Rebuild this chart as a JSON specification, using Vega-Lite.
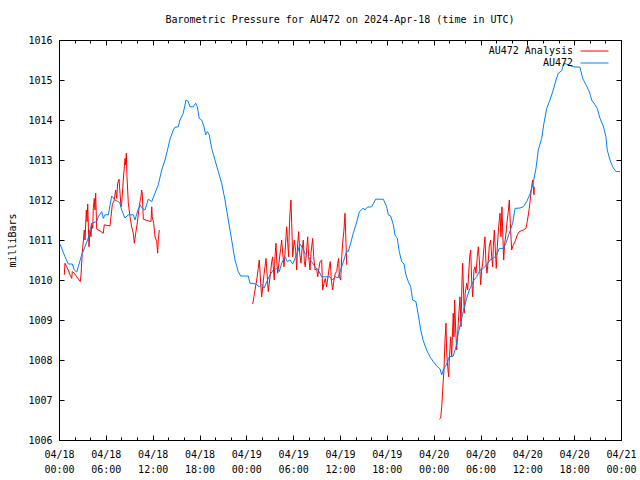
{
  "$schema": "https://vega.github.io/schema/vega-lite/v6.json",
  "width": 562,
  "height": 400,
  "autosize": {"type": "none"},
  "padding": {"left": 59, "top": 40, "right": 19, "bottom": 40},
  "background": "white",
  "config": {
    "font": "DejaVu Sans Mono",
    "view": {"stroke": "black"},
    "axis": {"grid": false, "labelFontSize": 10, "labelColor": "black", "tickColor": "black", "domainColor": "black", "titleColor": "black", "titleFontWeight": "normal", "titleFontSize": 10, "labelFont": "DejaVu Sans Mono", "titleFont": "DejaVu Sans Mono"}
  },
  "title": {"text": "Barometric Pressure for AU472 on 2024-Apr-18 (time in UTC)", "font": "DejaVu Sans Mono", "fontSize": 10, "fontWeight": "normal", "anchor": "middle", "frame": "group", "offset": 10, "color": "black"},
  "datasets": {
    "au": [
      {"h":0.13,"p":1010.9},{"h":0.77,"p":1010.58},{"h":1.19,"p":1010.4},{"h":1.7,"p":1010.4},{"h":1.96,"p":1010.25},{"h":2.27,"p":1010.2},{"h":2.91,"p":1010.63},{"h":3.33,"p":1010.83},{"h":3.75,"p":1011.05},{"h":4.19,"p":1011.42},{"h":4.83,"p":1011.46},{"h":5.03,"p":1011.58},{"h":5.47,"p":1011.71},{"h":5.67,"p":1011.54},{"h":5.89,"p":1011.63},{"h":6.32,"p":1011.63},{"h":6.75,"p":1012.1},{"h":7.17,"p":1012.0},{"h":7.6,"p":1011.96},{"h":7.81,"p":1011.92},{"h":8.03,"p":1011.75},{"h":8.45,"p":1011.55},{"h":8.88,"p":1011.63},{"h":9.52,"p":1011.63},{"h":9.74,"p":1011.5},{"h":10.08,"p":1011.73},{"h":10.38,"p":1011.88},{"h":10.67,"p":1011.79},{"h":11.02,"p":1011.75},{"h":11.44,"p":1012.02},{"h":11.88,"p":1011.96},{"h":12.3,"p":1012.17},{"h":12.72,"p":1012.38},{"h":13.16,"p":1012.75},{"h":13.58,"p":1013.0},{"h":14.0,"p":1013.33},{"h":14.22,"p":1013.52},{"h":14.64,"p":1013.75},{"h":14.86,"p":1013.82},{"h":15.28,"p":1013.83},{"h":15.5,"p":1014.0},{"h":15.92,"p":1014.17},{"h":16.27,"p":1014.5},{"h":16.56,"p":1014.46},{"h":16.78,"p":1014.33},{"h":17.2,"p":1014.33},{"h":17.51,"p":1014.42},{"h":17.72,"p":1014.33},{"h":17.97,"p":1014.04},{"h":18.28,"p":1014.0},{"h":18.58,"p":1013.83},{"h":18.79,"p":1013.63},{"h":19.0,"p":1013.71},{"h":19.25,"p":1013.63},{"h":19.56,"p":1013.29},{"h":19.98,"p":1013.0},{"h":20.41,"p":1012.71},{"h":20.84,"p":1012.42},{"h":21.27,"p":1012.0},{"h":21.69,"p":1011.5},{"h":22.12,"p":1011.0},{"h":22.55,"p":1010.5},{"h":22.97,"p":1010.21},{"h":23.28,"p":1010.1},{"h":24.25,"p":1010.1},{"h":24.47,"p":1009.92},{"h":25.24,"p":1009.9},{"h":25.66,"p":1009.83},{"h":25.97,"p":1009.9},{"h":26.26,"p":1009.8},{"h":26.61,"p":1009.95},{"h":27.03,"p":1010.13},{"h":27.45,"p":1010.25},{"h":27.97,"p":1010.29},{"h":28.22,"p":1010.21},{"h":28.53,"p":1010.42},{"h":28.95,"p":1010.58},{"h":29.25,"p":1010.46},{"h":29.59,"p":1010.5},{"h":29.94,"p":1010.4},{"h":30.23,"p":1010.54},{"h":30.53,"p":1010.67},{"h":30.87,"p":1010.9},{"h":31.22,"p":1010.79},{"h":31.51,"p":1010.67},{"h":31.94,"p":1010.58},{"h":32.37,"p":1010.46},{"h":32.8,"p":1010.33},{"h":33.22,"p":1010.25},{"h":33.65,"p":1010.08},{"h":34.72,"p":1010.08},{"h":35.06,"p":1010.0},{"h":35.36,"p":1010.08},{"h":35.78,"p":1010.06},{"h":36.0,"p":1010.21},{"h":36.42,"p":1010.45},{"h":36.86,"p":1010.73},{"h":37.06,"p":1010.71},{"h":37.37,"p":1010.92},{"h":37.7,"p":1011.17},{"h":38.14,"p":1011.45},{"h":38.47,"p":1011.7},{"h":38.98,"p":1011.8},{"h":39.2,"p":1011.75},{"h":39.5,"p":1011.82},{"h":40.06,"p":1011.83},{"h":40.57,"p":1012.02},{"h":41.55,"p":1012.02},{"h":41.98,"p":1011.83},{"h":42.19,"p":1011.63},{"h":42.49,"p":1011.6},{"h":42.83,"p":1011.38},{"h":43.04,"p":1011.13},{"h":43.34,"p":1011.04},{"h":43.59,"p":1010.71},{"h":43.9,"p":1010.46},{"h":44.2,"p":1010.4},{"h":44.45,"p":1010.13},{"h":44.75,"p":1009.96},{"h":45.06,"p":1009.83},{"h":45.31,"p":1009.5},{"h":45.73,"p":1009.46},{"h":46.03,"p":1009.13},{"h":46.34,"p":1008.75},{"h":46.67,"p":1008.48},{"h":47.11,"p":1008.24},{"h":47.53,"p":1008.08},{"h":47.95,"p":1007.96},{"h":48.39,"p":1007.85},{"h":48.81,"p":1007.78},{"h":49.03,"p":1007.63},{"h":49.23,"p":1007.75},{"h":49.67,"p":1007.9},{"h":50.0,"p":1008.08},{"h":50.51,"p":1008.1},{"h":50.86,"p":1008.33},{"h":51.15,"p":1008.67},{"h":51.46,"p":1008.92},{"h":51.79,"p":1009.21},{"h":52.23,"p":1009.54},{"h":52.56,"p":1009.75},{"h":52.87,"p":1009.88},{"h":53.16,"p":1010.0},{"h":53.51,"p":1010.08},{"h":53.93,"p":1010.25},{"h":54.36,"p":1010.29},{"h":54.79,"p":1010.38},{"h":55.21,"p":1010.5},{"h":55.64,"p":1010.54},{"h":56.07,"p":1010.63},{"h":56.41,"p":1010.79},{"h":56.92,"p":1010.79},{"h":57.26,"p":1010.92},{"h":57.69,"p":1011.17},{"h":58.12,"p":1011.42},{"h":58.42,"p":1011.79},{"h":59.06,"p":1011.8},{"h":59.48,"p":1011.83},{"h":59.92,"p":1011.96},{"h":60.34,"p":1012.15},{"h":60.76,"p":1012.44},{"h":61.11,"p":1012.79},{"h":61.4,"p":1013.25},{"h":61.84,"p":1013.54},{"h":62.13,"p":1013.92},{"h":62.48,"p":1014.29},{"h":62.9,"p":1014.5},{"h":63.32,"p":1014.75},{"h":63.67,"p":1015.0},{"h":63.96,"p":1015.17},{"h":64.4,"p":1015.23},{"h":64.69,"p":1015.42},{"h":65.24,"p":1015.38},{"h":65.89,"p":1015.33},{"h":66.74,"p":1015.32},{"h":67.09,"p":1015.04},{"h":67.51,"p":1014.88},{"h":67.94,"p":1014.71},{"h":68.24,"p":1014.5},{"h":68.67,"p":1014.38},{"h":68.96,"p":1014.29},{"h":69.31,"p":1014.04},{"h":69.73,"p":1013.85},{"h":70.07,"p":1013.58},{"h":70.24,"p":1013.25},{"h":70.59,"p":1013.0},{"h":70.93,"p":1012.83},{"h":71.36,"p":1012.71},{"h":71.87,"p":1012.71}
    ],
    "an": [
      {"s":1,"h":0.68,"p":1010.13},{"s":1,"h":0.77,"p":1010.42},{"s":1,"h":0.99,"p":1010.33},{"s":1,"h":1.19,"p":1010.25},{"s":1,"h":1.41,"p":1010.13},{"s":1,"h":1.63,"p":1010.04},{"s":1,"h":1.7,"p":1010.21},{"s":1,"h":1.96,"p":1010.17},{"s":1,"h":2.27,"p":1010.08},{"s":1,"h":2.56,"p":1010.0},{"s":1,"h":2.73,"p":1009.96},{"s":1,"h":2.82,"p":1010.13},{"s":1,"h":2.98,"p":1010.67},{"s":1,"h":3.24,"p":1011.25},{"s":1,"h":3.33,"p":1011.0},{"s":1,"h":3.5,"p":1011.75},{"s":1,"h":3.59,"p":1011.46},{"s":1,"h":3.68,"p":1011.9},{"s":1,"h":3.84,"p":1010.83},{"s":1,"h":3.97,"p":1011.25},{"s":1,"h":4.1,"p":1011.08},{"s":1,"h":4.19,"p":1011.42},{"s":1,"h":4.32,"p":1011.29},{"s":1,"h":4.39,"p":1011.79},{"s":1,"h":4.52,"p":1012.04},{"s":1,"h":4.61,"p":1011.75},{"s":1,"h":4.7,"p":1012.17},{"s":1,"h":4.83,"p":1011.27},{"s":1,"h":5.25,"p":1011.23},{"s":1,"h":5.67,"p":1011.17},{"s":1,"h":5.8,"p":1011.38},{"s":1,"h":6.53,"p":1011.35},{"s":1,"h":6.66,"p":1011.58},{"s":1,"h":6.83,"p":1011.88},{"s":1,"h":7.08,"p":1012.0},{"s":1,"h":7.26,"p":1012.25},{"s":1,"h":7.39,"p":1012.04},{"s":1,"h":7.52,"p":1012.42},{"s":1,"h":7.69,"p":1012.52},{"s":1,"h":7.81,"p":1012.2},{"s":1,"h":7.94,"p":1011.83},{"s":1,"h":8.03,"p":1011.92},{"s":1,"h":8.24,"p":1012.5},{"s":1,"h":8.37,"p":1012.83},{"s":1,"h":8.46,"p":1013.04},{"s":1,"h":8.54,"p":1012.88},{"s":1,"h":8.62,"p":1013.17},{"s":1,"h":8.71,"p":1012.58},{"s":1,"h":8.88,"p":1011.92},{"s":1,"h":9.1,"p":1011.58},{"s":1,"h":9.31,"p":1011.33},{"s":1,"h":9.52,"p":1011.17},{"s":1,"h":9.65,"p":1010.92},{"s":1,"h":9.83,"p":1011.17},{"s":1,"h":10.08,"p":1011.5},{"s":1,"h":10.25,"p":1011.79},{"s":1,"h":10.38,"p":1011.96},{"s":1,"h":10.5,"p":1012.08},{"s":1,"h":10.59,"p":1012.25},{"s":1,"h":10.67,"p":1012.15},{"s":1,"h":10.8,"p":1011.52},{"s":1,"h":11.44,"p":1011.48},{"s":1,"h":11.79,"p":1011.46},{"s":1,"h":11.88,"p":1011.83},{"s":1,"h":11.95,"p":1011.58},{"s":1,"h":12.13,"p":1011.42},{"s":1,"h":12.3,"p":1011.08},{"s":1,"h":12.52,"p":1010.96},{"s":1,"h":12.64,"p":1010.67},{"s":1,"h":12.72,"p":1011.0},{"s":1,"h":12.85,"p":1011.25},
      {"s":2,"h":24.81,"p":1009.4},{"s":2,"h":24.98,"p":1009.58},{"s":2,"h":25.11,"p":1009.75},{"s":2,"h":25.33,"p":1010.0},{"s":2,"h":25.53,"p":1010.29},{"s":2,"h":25.66,"p":1010.5},{"s":2,"h":25.84,"p":1009.92},{"s":2,"h":25.97,"p":1009.58},{"s":2,"h":26.1,"p":1009.83},{"s":2,"h":26.26,"p":1010.13},{"s":2,"h":26.39,"p":1010.33},{"s":2,"h":26.52,"p":1010.54},{"s":2,"h":26.68,"p":1010.08},{"s":2,"h":26.81,"p":1009.71},{"s":2,"h":26.94,"p":1009.92},{"s":2,"h":27.12,"p":1010.21},{"s":2,"h":27.25,"p":1010.46},{"s":2,"h":27.38,"p":1010.58},{"s":2,"h":27.45,"p":1010.33},{"s":2,"h":27.58,"p":1010.0},{"s":2,"h":27.67,"p":1010.58},{"s":2,"h":27.8,"p":1010.92},{"s":2,"h":27.89,"p":1010.5},{"s":2,"h":28.02,"p":1010.17},{"s":2,"h":28.22,"p":1010.5},{"s":2,"h":28.4,"p":1010.79},{"s":2,"h":28.53,"p":1011.0},{"s":2,"h":28.66,"p":1010.67},{"s":2,"h":28.82,"p":1010.33},{"s":2,"h":28.95,"p":1010.67},{"s":2,"h":29.08,"p":1011.08},{"s":2,"h":29.17,"p":1011.33},{"s":2,"h":29.3,"p":1010.92},{"s":2,"h":29.43,"p":1010.58},{"s":2,"h":29.5,"p":1011.25},{"s":2,"h":29.59,"p":1011.67},{"s":2,"h":29.72,"p":1012.0},{"s":2,"h":29.81,"p":1011.42},{"s":2,"h":29.94,"p":1010.58},{"s":2,"h":30.02,"p":1010.75},{"s":2,"h":30.14,"p":1011.0},{"s":2,"h":30.32,"p":1010.75},{"s":2,"h":30.45,"p":1010.25},{"s":2,"h":30.58,"p":1010.92},{"s":2,"h":30.71,"p":1011.21},{"s":2,"h":30.84,"p":1010.67},{"s":2,"h":31.0,"p":1010.42},{"s":2,"h":31.13,"p":1010.75},{"s":2,"h":31.3,"p":1011.0},{"s":2,"h":31.43,"p":1010.46},{"s":2,"h":31.55,"p":1010.33},{"s":2,"h":31.73,"p":1010.75},{"s":2,"h":31.86,"p":1011.08},{"s":2,"h":31.99,"p":1010.58},{"s":2,"h":32.16,"p":1010.25},{"s":2,"h":32.28,"p":1010.67},{"s":2,"h":32.5,"p":1011.04},{"s":2,"h":32.63,"p":1010.58},{"s":2,"h":32.8,"p":1010.25},{"s":2,"h":33.01,"p":1010.29},{"s":2,"h":33.14,"p":1010.08},{"s":2,"h":33.27,"p":1010.25},{"s":2,"h":33.44,"p":1010.46},{"s":2,"h":33.65,"p":1010.5},{"s":2,"h":33.78,"p":1009.75},{"s":2,"h":33.95,"p":1009.92},{"s":2,"h":34.12,"p":1010.04},{"s":2,"h":34.29,"p":1009.83},{"s":2,"h":34.46,"p":1010.08},{"s":2,"h":34.63,"p":1010.33},{"s":2,"h":34.76,"p":1010.46},{"s":2,"h":34.89,"p":1010.0},{"s":2,"h":35.06,"p":1009.75},{"s":2,"h":35.23,"p":1010.0},{"s":2,"h":35.4,"p":1010.17},{"s":2,"h":35.58,"p":1010.21},{"s":2,"h":35.7,"p":1010.42},{"s":2,"h":35.83,"p":1010.54},{"s":2,"h":35.91,"p":1010.08},{"s":2,"h":36.09,"p":1010.0},{"s":2,"h":36.22,"p":1010.58},{"s":2,"h":36.34,"p":1010.92},{"s":2,"h":36.51,"p":1011.25},{"s":2,"h":36.64,"p":1011.67},{"s":2,"h":36.77,"p":1010.92},{"s":2,"h":36.86,"p":1010.38},
      {"s":3,"h":48.72,"p":1006.52},{"s":3,"h":48.9,"p":1006.55},{"s":3,"h":49.03,"p":1006.83},{"s":3,"h":49.16,"p":1007.25},{"s":3,"h":49.23,"p":1007.5},{"s":3,"h":49.32,"p":1007.75},{"s":3,"h":49.45,"p":1008.5},{"s":3,"h":49.58,"p":1008.92},{"s":3,"h":49.67,"p":1008.17},{"s":3,"h":49.8,"p":1007.83},{"s":3,"h":49.92,"p":1007.58},{"s":3,"h":50.0,"p":1008.0},{"s":3,"h":50.18,"p":1008.58},{"s":3,"h":50.31,"p":1008.08},{"s":3,"h":50.44,"p":1008.83},{"s":3,"h":50.51,"p":1009.17},{"s":3,"h":50.6,"p":1008.58},{"s":3,"h":50.69,"p":1009.5},{"s":3,"h":50.82,"p":1008.75},{"s":3,"h":50.95,"p":1008.25},{"s":3,"h":51.08,"p":1008.67},{"s":3,"h":51.2,"p":1009.08},{"s":3,"h":51.37,"p":1009.58},{"s":3,"h":51.5,"p":1008.83},{"s":3,"h":51.63,"p":1010.0},{"s":3,"h":51.72,"p":1010.42},{"s":3,"h":51.79,"p":1009.92},{"s":3,"h":51.92,"p":1009.17},{"s":3,"h":52.05,"p":1009.67},{"s":3,"h":52.23,"p":1009.92},{"s":3,"h":52.36,"p":1009.75},{"s":3,"h":52.49,"p":1010.17},{"s":3,"h":52.61,"p":1010.58},{"s":3,"h":52.74,"p":1010.75},{"s":3,"h":52.87,"p":1010.0},{"s":3,"h":53.0,"p":1009.58},{"s":3,"h":53.16,"p":1010.25},{"s":3,"h":53.29,"p":1010.33},{"s":3,"h":53.42,"p":1010.17},{"s":3,"h":53.59,"p":1010.58},{"s":3,"h":53.72,"p":1010.83},{"s":3,"h":53.85,"p":1010.5},{"s":3,"h":54.02,"p":1009.88},{"s":3,"h":54.15,"p":1010.25},{"s":3,"h":54.28,"p":1010.42},{"s":3,"h":54.45,"p":1010.83},{"s":3,"h":54.57,"p":1011.08},{"s":3,"h":54.7,"p":1010.42},{"s":3,"h":54.83,"p":1010.17},{"s":3,"h":55.0,"p":1010.5},{"s":3,"h":55.12,"p":1010.83},{"s":3,"h":55.3,"p":1011.0},{"s":3,"h":55.43,"p":1010.58},{"s":3,"h":55.56,"p":1010.33},{"s":3,"h":55.64,"p":1010.83},{"s":3,"h":55.77,"p":1011.25},{"s":3,"h":55.9,"p":1010.75},{"s":3,"h":56.02,"p":1010.29},{"s":3,"h":56.15,"p":1010.83},{"s":3,"h":56.33,"p":1011.33},{"s":3,"h":56.5,"p":1011.67},{"s":3,"h":56.62,"p":1011.08},{"s":3,"h":56.75,"p":1011.83},{"s":3,"h":56.84,"p":1011.25},{"s":3,"h":56.97,"p":1010.5},{"s":3,"h":57.1,"p":1010.92},{"s":3,"h":57.22,"p":1011.08},{"s":3,"h":57.43,"p":1011.5},{"s":3,"h":57.56,"p":1011.71},{"s":3,"h":57.69,"p":1012.0},{"s":3,"h":57.82,"p":1011.42},{"s":3,"h":57.99,"p":1010.75},{"s":3,"h":58.2,"p":1010.88},{"s":3,"h":58.42,"p":1010.96},{"s":3,"h":58.72,"p":1011.13},{"s":3,"h":58.97,"p":1011.21},{"s":3,"h":59.48,"p":1011.25},{"s":3,"h":59.82,"p":1011.29},{"s":3,"h":59.99,"p":1011.46},{"s":3,"h":60.25,"p":1011.79},{"s":3,"h":60.55,"p":1012.33},{"s":3,"h":60.68,"p":1012.5},{"s":3,"h":60.85,"p":1012.13},{"s":3,"h":60.89,"p":1012.33}
    ]
  },
  "resolve": {"axis": {"x": "independent", "y": "independent"}},
  "layer": [
    {
      "data": {"name": "an"},
      "mark": {"type": "line", "strokeWidth": 1},
      "encoding": {
        "x": {"field": "h", "type": "quantitative", "scale": {"domain": [0, 72], "nice": false, "zero": false},
          "axis": {"orient": "bottom", "title": null, "values": [0,2,4,6,8,10,12,14,16,18,20,22,24,26,28,30,32,34,36,38,40,42,44,46,48,50,52,54,56,58,60,62,64,66,68,70,72], "tickSize": -3, "labelPadding": 12, "labelFlush": false, "labelOverlap": false, "labelBound": false, "labelLineHeight": 15,
            "labelExpr": "datum.value % 6 == 0 ? ['04/' + (18 + floor(datum.value / 24)), (datum.value % 24 < 10 ? '0' : '') + (datum.value % 24) + ':00'] : ''"}},
        "y": {"field": "p", "type": "quantitative", "scale": {"domain": [1006, 1016], "nice": false, "zero": false},
          "axis": {"orient": "left", "title": "milliBars", "format": "d", "values": [1006,1007,1008,1009,1010,1011,1012,1013,1014,1015,1016], "tickSize": -5, "labelPadding": 12, "labelFlush": false, "labelOverlap": false, "titlePadding": 10}},
        "detail": {"field": "s"},
        "color": {"datum": "AU472 Analysis", "type": "nominal",
          "scale": {"domain": ["AU472 Analysis", "AU472"], "range": ["#ff0000", "#0080ff"]},
          "legend": {"orient": "none", "legendX": 530.5, "legendY": 6, "title": null, "symbolType": "M-4,0H4", "symbolSize": 49, "symbolStrokeWidth": 1, "labelAlign": "right", "labelOffset": -26.5, "labelFontSize": 10, "labelFont": "DejaVu Sans Mono", "labelColor": "black", "padding": 0, "rowPadding": 2, "labelLimit": 0,
            "encode": {"symbols": {"update": {"stroke": [{"test": "datum.value === 'AU472 Analysis'", "value": "#ff0000"}, {"value": "#0080ff"}], "fill": {"value": "transparent"}, "opacity": {"value": 1}}}}}}
      }
    },
    {
      "data": {"name": "au"},
      "mark": {"type": "line", "strokeWidth": 1},
      "encoding": {
        "x": {"field": "h", "type": "quantitative", "scale": {"domain": [0, 72], "nice": false, "zero": false},
          "axis": {"orient": "bottom", "title": null, "values": [0,6,12,18,24,30,36,42,48,54,60,66,72], "tickSize": -5, "labels": false, "domain": false}},
        "y": {"field": "p", "type": "quantitative", "scale": {"domain": [1006, 1016], "nice": false, "zero": false},
          "axis": {"orient": "right", "title": null, "values": [1006,1007,1008,1009,1010,1011,1012,1013,1014,1015,1016], "tickSize": -5, "labels": false}},
        "color": {"datum": "AU472", "type": "nominal"}
      }
    },
    {
      "data": {"name": "au"},
      "mark": {"type": "line", "strokeWidth": 1, "opacity": 0},
      "encoding": {
        "x": {"field": "h", "type": "quantitative", "scale": {"domain": [0, 72], "nice": false, "zero": false},
          "axis": {"orient": "top", "title": null, "values": [0,2,4,6,8,10,12,14,16,18,20,22,24,26,28,30,32,34,36,38,40,42,44,46,48,50,52,54,56,58,60,62,64,66,68,70,72], "tickSize": -3, "labels": false}},
        "y": {"field": "p", "type": "quantitative", "axis": null}
      }
    },
    {
      "data": {"name": "au"},
      "mark": {"type": "line", "strokeWidth": 1, "opacity": 0},
      "encoding": {
        "x": {"field": "h", "type": "quantitative", "scale": {"domain": [0, 72], "nice": false, "zero": false},
          "axis": {"orient": "top", "title": null, "values": [0,6,12,18,24,30,36,42,48,54,60,66,72], "tickSize": -5, "labels": false, "domain": false}},
        "y": {"field": "p", "type": "quantitative", "axis": null}
      }
    }
  ]
}
